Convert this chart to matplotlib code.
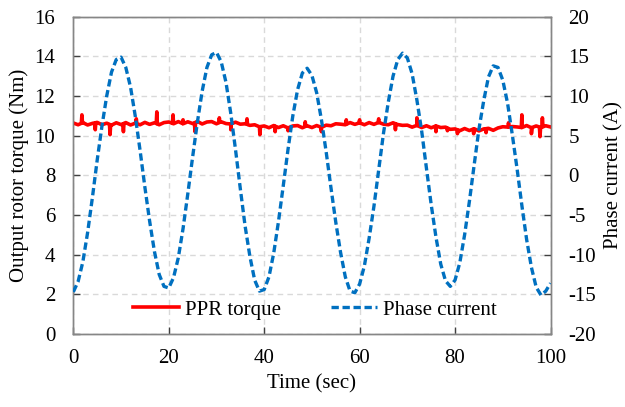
import matplotlib

matplotlib.use("Agg")

import matplotlib.pyplot as plt
import numpy as np

plt.rcParams["font.family"] = "serif"
plt.rcParams["font.serif"] = ["Liberation Serif", "DejaVu Serif"]
plt.rcParams["font.size"] = 15
plt.rcParams["axes.unicode_minus"] = False

current_time = np.arange(0, 101, 1)
current_amp = [
    -14.7, -13.4, -10.9, -7.2, -2.8, 1.9, 6.2, 10.0, 13.0, 14.6,
    14.9, 13.6, 11.1, 7.4, 3.1, -1.5, -5.8, -9.6, -12.5, -14.0,
    -14.2, -12.9, -10.4, -6.7, -2.3, 2.3, 6.7, 10.6, 13.6, 15.2,
    15.5, 14.3, 11.7, 7.8, 3.2, -1.7, -6.4, -10.2, -13.2, -14.6,
    -14.4, -12.8, -9.8, -5.8, -1.3, 3.3, 7.5, 10.8, 12.9, 13.5,
    12.6, 10.4, 7.0, 2.9, -1.6, -5.9, -9.7, -12.8, -14.6, -14.8,
    -13.7, -11.4, -7.9, -3.9, 0.7, 5.3, 9.2, 12.5, 14.6, 15.4,
    14.8, 12.8, 9.5, 5.6, 0.9, -3.7, -7.8, -11.2, -13.3, -14.0,
    -13.2, -11.0, -7.5, -3.3, 1.3, 5.8, 9.4, 12.4, 13.8, 13.6,
    12.0, 9.1, 5.1, 0.8, -3.8, -8.1, -11.6, -14.1, -15.1, -14.6,
    -13.6,
]

# PPR torque (Nm), baseline every second plus short spikes
torque_time = np.arange(0, 101, 1)
torque_base = [
    10.64, 10.55, 10.66, 10.54, 10.62, 10.67, 10.55, 10.63, 10.53, 10.65,
    10.56, 10.66, 10.54, 10.63, 10.55, 10.67, 10.57, 10.65, 10.55, 10.66,
    10.69, 10.60, 10.71, 10.60, 10.70, 10.61, 10.72, 10.59, 10.69, 10.71,
    10.60, 10.70, 10.61, 10.59, 10.68, 10.58, 10.60, 10.52, 10.55, 10.45,
    10.49, 10.40, 10.51, 10.41, 10.50, 10.39, 10.49, 10.51, 10.40, 10.50,
    10.41, 10.51, 10.42, 10.53, 10.50, 10.60, 10.58, 10.55, 10.66, 10.57,
    10.65, 10.55, 10.66, 10.57, 10.67, 10.58, 10.55, 10.65, 10.56, 10.52,
    10.53, 10.43, 10.52, 10.41, 10.50, 10.40, 10.49, 10.41, 10.43, 10.32,
    10.34, 10.25, 10.36, 10.26, 10.35, 10.24, 10.34, 10.37, 10.27, 10.39,
    10.45, 10.43, 10.46, 10.44, 10.41, 10.51, 10.40, 10.49, 10.41, 10.50,
    10.44,
]
spike_time = [1.8, 4.6, 7.7, 10.5, 13.2, 17.5, 20.9, 23.0, 25.5, 30.6, 33.0,
              36.4, 39.1, 42.3, 45.0, 48.6, 52.0, 57.2, 60.0, 64.0, 67.5, 72.0,
              76.0, 78.4, 80.5, 83.9, 86.5, 91.2, 94.0, 96.0, 97.8, 98.3]
spike_value = [11.05, 10.3, 10.05, 10.2, 10.85, 11.2, 11.05, 10.8, 10.2, 10.9, 10.3,
               10.85, 10.05, 10.2, 10.25, 10.7, 10.2, 10.8, 10.8, 10.85, 10.3, 10.9,
               10.2, 10.25, 10.1, 10.1, 10.15, 10.65, 11.05, 10.1, 9.95, 10.9]

# merge spikes into the baseline as narrow excursions
t_all = list(torque_time)
v_all = list(torque_base)
for ts, vs in zip(spike_time, spike_value):
    for dt, use_spike in ((-0.12, False), (0.0, True), (0.12, False)):
        t_all.append(ts + dt)
        v_all.append(vs if use_spike else np.interp(ts + dt, torque_time, torque_base))
order = np.argsort(t_all)
t_all = np.array(t_all)[order]
v_all = np.array(v_all)[order]

RED = "#FF0000"
BLUE = "#0070C0"
GRID = "#D9D9D9"
SPINE = "#868686"

fig = plt.figure(figsize=(6.25, 4.07), dpi=100)
fig.subplots_adjust(left=0.1173, right=0.8808, bottom=0.1794, top=0.959)
ax = fig.add_subplot(111)
ax2 = ax.twinx()

ax.grid(True, color=GRID, lw=1.0, linestyle=(0, (4, 3)), zorder=0)
ax.set_axisbelow(True)

(l1,) = ax.plot(t_all, v_all, color=RED, lw=2.6, label="PPR torque", zorder=3)
(l2,) = ax2.plot(current_time, current_amp, color=BLUE, lw=2.4,
                 linestyle=(0, (2.2, 1.1)), label="Phase current", zorder=3)

ax.set_xlim(0, 100)
ax.set_ylim(0, 16)
ax2.set_ylim(-20, 20)
ax.set_xticks(np.arange(0, 101, 20))
ax.set_yticks(np.arange(0, 17, 2))
ax2.set_yticks(np.arange(-20, 21, 5))

for a in (ax, ax2):
    for s in a.spines.values():
        s.set_color(SPINE)
        s.set_linewidth(1.0)
ax.tick_params(axis="both", direction="in", length=5, width=1, color="#404040",
               labelsize=15)
ax.tick_params(axis="x", pad=11)
ax.tick_params(axis="y", pad=13)
ax2.tick_params(axis="y", direction="in", length=5, width=1, color="#404040",
                labelsize=15, pad=13)

ax.set_xlabel("Time (sec)", fontsize=15, labelpad=4)
ax.set_ylabel("Output rotor torque (Nm)", fontsize=15, labelpad=4)
ax2.set_ylabel("Phase current (A)", fontsize=15, labelpad=6)

leg = ax2.legend(handles=[l1, l2], loc="center", bbox_to_anchor=(0.507, 0.076),
                 ncol=2, frameon=False, fontsize=15, handlelength=2.2,
                 columnspacing=2.4, handletextpad=0.3)

fig.savefig("out.png", dpi=100)
